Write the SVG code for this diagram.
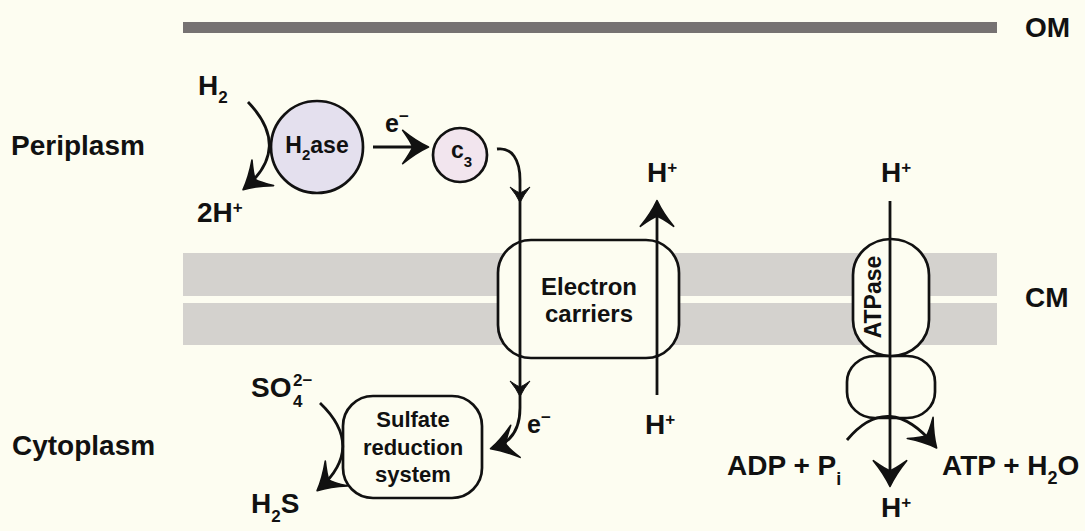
<svg xmlns="http://www.w3.org/2000/svg" xmlns:xlink="http://www.w3.org/1999/xlink" width="1085" height="531" viewBox="0 0 1085 531">
<style>
text{font-family:"Liberation Sans",Arial,Helvetica,sans-serif;font-weight:bold;fill:#111;}
.big{font-size:28px;}
.mid{font-size:24px;}
.box{font-size:22px;}
.small{font-size:17px;}
.node{stroke:#111;stroke-width:2.7;}
.ln{fill:none;stroke:#111;stroke-width:2.8;}
.mem{fill:#D4D2CE;}
.head{fill:#111;stroke:#111;stroke-width:1;stroke-linejoin:round;}
</style>
<defs>
<marker id="arr" markerUnits="userSpaceOnUse" markerWidth="40" markerHeight="40" viewBox="-20 -12 22 24" refX="0" refY="0" orient="auto">
<path class="head" d="M1.5,0 Q-6,-3.5 -14,-10 Q-9,-3 -8,0 Q-9,3 -14,10 Q-6,3.5 1.5,0 Z"/>
</marker>
<path id="ah" class="head" d="M1.5,0 Q-6,-3.5 -14,-10 Q-9,-3 -8,0 Q-9,3 -14,10 Q-6,3.5 1.5,0 Z"/>
</defs>
<rect width="1085" height="531" fill="#FDFDF1"/>
<g id="membranes">
<rect x="183" y="22" width="814" height="11" fill="#767272"/>
<rect class="mem" x="183" y="253" width="814" height="43"/>
<rect class="mem" x="183" y="303" width="814" height="42"/>
</g>
<g id="region-labels">
<text class="big" x="1025" y="37">OM</text>
<text class="big" x="1025" y="307">CM</text>
<text class="big" x="11" y="155">Periplasm</text>
<text class="big" x="12" y="455">Cytoplasm</text>
</g>
<g id="h2ase">
<circle class="node" cx="317" cy="147" r="46" fill="#E4E0EE"/>
<text x="317" y="153" text-anchor="middle" style="font-size:23px">H<tspan style="font-size:15px" dy="7">2</tspan><tspan dy="-7">ase</tspan></text>
</g>
<g id="c3">
<circle class="node" cx="460" cy="155" r="27" fill="#F2E5EE"/>
<text x="451" y="158" style="font-size:23px">c<tspan style="font-size:15px" dy="9">3</tspan></text>
</g>
<g id="electron-carriers">
<rect class="node" x="498" y="240" width="181" height="118" rx="33" fill="#FDFDF1"/>
<text class="mid" x="589" y="295" text-anchor="middle">Electron</text>
<text class="mid" x="589" y="322" text-anchor="middle">carriers</text>
</g>
<g id="sulfate-reduction">
<rect class="node" x="343" y="396" width="139" height="102" rx="30" fill="#FDFDF1"/>
<text class="box" x="413" y="427" text-anchor="middle">Sulfate</text>
<text class="box" x="413" y="455" text-anchor="middle">reduction</text>
<text class="box" x="413" y="482" text-anchor="middle">system</text>
</g>
<g id="atpase">
<rect class="node" x="847" y="356" width="88" height="62" rx="28" ry="26" fill="#FDFDF1"/>
<rect class="node" x="853" y="239" width="76" height="117" rx="38" ry="36" fill="#FDFDF1"/>
<text transform="translate(881,297) rotate(-90)" x="0" y="0" text-anchor="middle" style="font-size:23px">ATPase</text>
</g>
<g id="connectors">
<path class="ln" d="M248,102 Q292,148 245,188" marker-end="url(#arr)"/>
<path class="ln" d="M373,147 L426,147" marker-end="url(#arr)"/>
<path class="ln" d="M497,149 C512,147 520,160 520,180 L520,408 Q520,440 493,448" marker-end="url(#arr)"/>
<use xlink:href="#ah" transform="translate(520,201) rotate(90)"/>
<use xlink:href="#ah" transform="translate(520,395) rotate(90)"/>
<path class="ln" d="M657,395 L657,203" marker-end="url(#arr)"/>
<path class="ln" d="M890,201 L890,484" marker-end="url(#arr)"/>
<path class="ln" d="M847,440 Q889,390 935,446" marker-end="url(#arr)"/>
<path class="ln" d="M320,403 Q366,447 319,489" marker-end="url(#arr)"/>
</g>
<g id="labels">
<text class="big" x="198" y="95">H<tspan class="small" dy="8">2</tspan></text>
<text class="big" x="197" y="222">2H<tspan class="small" dy="-9">+</tspan></text>
<text x="385" y="132" style="font-size:25px">e<tspan class="small" dy="-10">−</tspan></text>
<text x="527" y="433" style="font-size:25px">e<tspan class="small" dy="-10">−</tspan></text>
<text class="big" x="647" y="182">H<tspan class="small" dy="-9">+</tspan></text>
<text class="big" x="645" y="434">H<tspan class="small" dy="-9">+</tspan></text>
<text class="big" x="881" y="182">H<tspan class="small" dy="-9">+</tspan></text>
<text class="big" x="881" y="517">H<tspan class="small" dy="-9">+</tspan></text>
<text class="big" x="727" y="475">ADP + P<tspan style="font-size:18px" dy="10">i</tspan></text>
<text class="big" x="942" y="475">ATP + H<tspan style="font-size:18px" dy="9">2</tspan><tspan dy="-9">O</tspan></text>
<text class="big" x="251" y="397">SO</text>
<text style="font-size:17px" x="293" y="407">4</text>
<text style="font-size:17px" x="293" y="386">2−</text>
<text class="big" x="251" y="513">H<tspan class="small" dy="9">2</tspan><tspan dy="-9">S</tspan></text>
</g>
</svg>
